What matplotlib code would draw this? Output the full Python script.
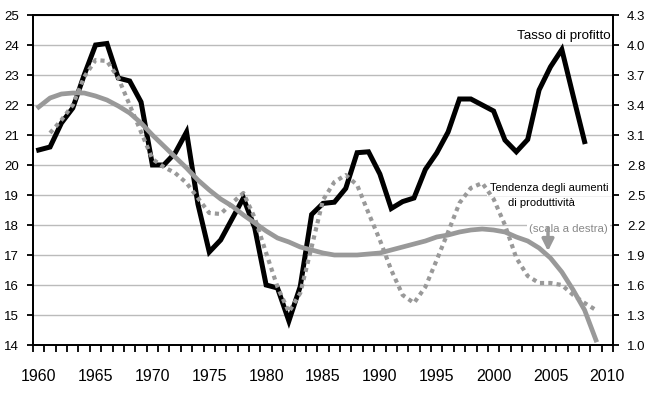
import matplotlib
matplotlib.use("Agg")
import matplotlib.pyplot as plt
import numpy as np

# dati
anni_profitto = list(range(1960, 2009))
tasso_profitto = [20.5, 20.6, 21.4, 21.9, 23.0, 24.0, 24.05, 22.9, 22.8, 22.1,
                  20.0, 20.0, 20.4, 21.1, 18.7, 17.1, 17.5, 18.2, 18.9, 17.9,
                  16.0, 15.9, 14.8, 15.95, 18.35, 18.72, 18.76, 19.22, 20.41, 20.44,
                  19.7, 18.55, 18.78, 18.9, 19.85, 20.4, 21.1, 22.2, 22.2, 22.0,
                  21.8, 20.83, 20.44, 20.85, 22.5, 23.27, 23.85, 22.3, 20.78]

anni_produttivita = list(range(1961, 2010))
produttivita = [3.12, 3.25, 3.40, 3.68, 3.85, 3.84, 3.67, 3.40, 3.13,
                2.86, 2.78, 2.72, 2.62, 2.47, 2.32, 2.31, 2.42, 2.52, 2.27,
                1.92, 1.58, 1.33, 1.52, 1.98, 2.45, 2.63, 2.70, 2.60, 2.32,
                2.05, 1.75, 1.50, 1.42, 1.58, 1.85, 2.13, 2.42, 2.57, 2.62,
                2.46, 2.20, 1.87, 1.69, 1.62, 1.62, 1.60, 1.50, 1.42, 1.35]

anni_tendenza = list(range(1960, 2010))
tendenza = [3.38, 3.47, 3.51, 3.52, 3.52, 3.49, 3.45, 3.39, 3.32, 3.22,
            3.10, 2.99, 2.88, 2.77, 2.65, 2.55, 2.46, 2.39, 2.30, 2.22,
            2.14, 2.07, 2.03, 1.98, 1.95, 1.92, 1.90, 1.90, 1.90, 1.91,
            1.92, 1.95, 1.98, 2.01, 2.04, 2.08, 2.10, 2.13, 2.15, 2.16,
            2.15, 2.13, 2.08, 2.04, 1.97, 1.87, 1.73, 1.55, 1.35, 1.05]

etichette_anni = list(range(1960, 2011, 5))

GRIGIO = "#999999"
plt.rcParams["font.family"] = ["Liberation Sans", "DejaVu Sans"]

W, H = 649, 397
fig = plt.figure(figsize=(W / 100, H / 100), dpi=100)
ax = fig.add_axes([33 / W, 52 / H, 580 / W, 330 / H])
ax2 = ax.twinx()

# griglia orizzontale
ax.set_ylim(14, 25)
ax.set_yticks(range(14, 26))
ax.grid(axis="y", color="#bbbbbb", linewidth=1.0)
ax.set_axisbelow(True)

ax.plot(anni_profitto, tasso_profitto, color="black", linewidth=3.6,
        solid_joinstyle="miter", zorder=3)

ax2.plot(anni_tendenza, tendenza, color=GRIGIO, linewidth=3.4, zorder=3)
ax2.plot(anni_produttivita, produttivita, color=GRIGIO, linewidth=3.0,
         linestyle=(0, (1, 1)), dash_capstyle="butt", zorder=4)
ax2.set_ylim(1.0, 4.3)
ax2.set_yticks(np.round(np.arange(1.0, 4.31, 0.3), 1))
ax2.set_yticklabels([f"{v:.1f}" for v in np.arange(1.0, 4.31, 0.3)])

# asse x a categorie
ax.set_xlim(1959.5, 2010.5)
ax.set_xticks(np.arange(1959.5, 2011, 1.0))
ax.set_xticklabels([])
ax.set_xticks(etichette_anni, minor=True)
ax.set_xticklabels([str(a) for a in etichette_anni], minor=True, fontsize=11.5)
ax.tick_params(axis="x", which="major", direction="out", length=5, width=1.3)
ax.tick_params(axis="x", which="minor", length=0, pad=17)

ax.tick_params(axis="y", direction="out", length=4, width=1.3, labelsize=9.5, pad=6)
ax2.tick_params(axis="y", direction="out", length=4, width=1.3, labelsize=9.5, pad=6)

for a in (ax, ax2):
    for s in a.spines.values():
        s.set_linewidth(1.3)
        s.set_color("black")

# annotazioni (nell'asse principale, sotto le linee grigie ma sopra la griglia)
def fx(px):
    return px / W

def fy(py):
    return 1 - py / H

tf = fig.transFigure
ax.text(fx(611), fy(36), "Tasso di profitto", ha="right", va="center",
        fontsize=9.6, transform=tf, zorder=2)
ax.text(fx(609), fy(188), "Tendenza degli aumenti", ha="right", va="center",
        fontsize=8.0, transform=tf, zorder=2,
        bbox=dict(facecolor="white", edgecolor="none", pad=2.5))
ax.text(fx(541), fy(203), "di produttività", ha="center", va="center",
        fontsize=8.0, transform=tf, zorder=2,
        bbox=dict(facecolor="white", edgecolor="none", pad=1))
ax.text(fx(608), fy(229), "(scala a destra)", ha="right", va="center",
        fontsize=8.2, color="#888888", transform=tf, zorder=2,
        bbox=dict(facecolor="white", edgecolor="none", pad=1.5))
ax2.annotate("", xy=(548, H - 254), xytext=(548, H - 225),
             xycoords="figure pixels", textcoords="figure pixels",
             arrowprops=dict(arrowstyle="-|>,head_width=0.35,head_length=0.7",
                             color=GRIGIO, linewidth=2.5), zorder=5)

fig.savefig("out.png", dpi=100)
